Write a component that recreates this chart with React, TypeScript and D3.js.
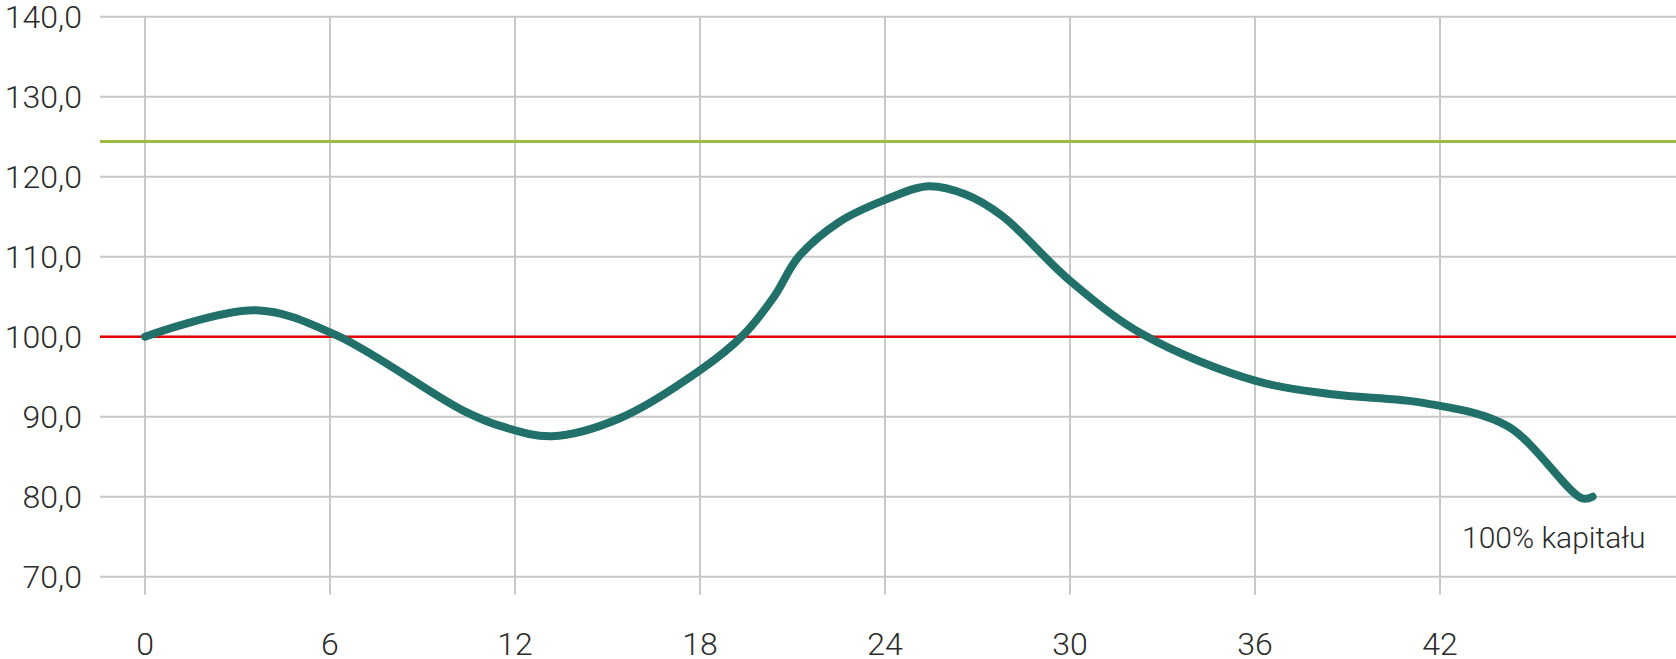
import React from "react";
import * as d3 from "d3";

const months = [0, 3.6, 6.2, 10.3, 11.6, 13.2, 15.4, 18.0, 19.4, 20.4, 21.2, 22.5, 24.0, 25.4, 26.6, 27.8, 30.0, 32.4, 36.0, 38.5, 41.5, 44.2, 46.6, 46.95];
const capital = [100, 103.3, 100.2, 90.8, 88.75, 87.55, 89.8, 95.8, 100.2, 105.0, 110.0, 114.3, 117.1, 118.8, 117.8, 115.1, 107.0, 100.2, 94.5, 92.8, 91.7, 88.8, 79.8, 80.0];

const xTicks = [0, 6, 12, 18, 24, 30, 36, 42];
const yTicks = [70, 80, 90, 100, 110, 120, 130, 140];
const redLevel = 100;
const greenLevel = 124.4;
const annotation = "100% kapitału";

const W = 1676;
const H = 659;

export default function App() {
  const x = d3.scaleLinear().domain([0, 48]).range([145, 145 + 48 * 30.833]);
  const y = d3.scaleLinear().domain([70, 140]).range([576.7, 16.7]);
  const pts: [number, number][] = months.map((m, i) => [m, capital[i]]);
  const line = d3
    .line<[number, number]>()
    .x((d) => x(d[0]))
    .y((d) => y(d[1]))
    .curve(d3.curveCatmullRom.alpha(0.5));
  const font = "Roboto, 'Open Sans', sans-serif";
  const gridLeft = 100;
  const yBottomVert = y(70) + 18;
  return (
    <svg
      width={W}
      height={H}
      viewBox={`0 0 ${W} ${H}`}
      style={{ position: "absolute", left: 0, top: 0, background: "#fff" }}
    >
      {yTicks.map((t) => (
        <line key={"h" + t} x1={gridLeft} x2={W} y1={y(t)} y2={y(t)} stroke="#c8c8c8" strokeWidth={2} />
      ))}
      {xTicks.map((t) => (
        <line key={"v" + t} x1={x(t)} x2={x(t)} y1={y(140)} y2={yBottomVert} stroke="#c8c8c8" strokeWidth={2} />
      ))}
      <line x1={gridLeft} x2={W} y1={y(greenLevel)} y2={y(greenLevel)} stroke="#9bbb47" strokeWidth={3} />
      <line x1={gridLeft} x2={W} y1={y(redLevel)} y2={y(redLevel)} stroke="#e20000" strokeWidth={2.6} />
      <path d={line(pts) || ""} fill="none" stroke="#21716a" strokeWidth={8} strokeLinecap="round" strokeLinejoin="round" />
      {yTicks.map((t) => (
        <text
          key={"yl" + t}
          x={82}
          y={y(t)}
          dy="0.36em"
          textAnchor="end"
          fontFamily={font}
          fontWeight={300}
          fontSize={32}
          fill="#2b2b2b"
        >
          {t.toFixed(1).replace(".", ",")}
        </text>
      ))}
      {xTicks.map((t) => (
        <text
          key={"xl" + t}
          x={x(t)}
          y={655}
          textAnchor="middle"
          fontFamily={font}
          fontWeight={300}
          fontSize={32}
          fill="#2b2b2b"
        >
          {t}
        </text>
      ))}
      <text x={1462} y={548} fontFamily={font} fontWeight={300} fontSize={30} fill="#2b2b2b">
        {annotation}
      </text>
    </svg>
  );
}
